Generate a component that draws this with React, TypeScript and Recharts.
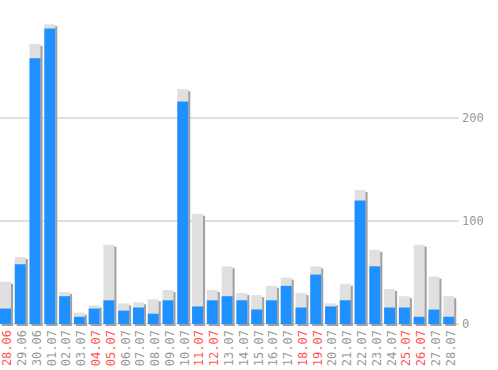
import React from "react";
import { BarChart, Bar, XAxis, YAxis, CartesianGrid } from "recharts";

const dayLabels = [
  "28.06", "29.06", "30.06", "01.07", "02.07", "03.07", "04.07", "05.07",
  "06.07", "07.07", "08.07", "09.07", "10.07", "11.07", "12.07", "13.07",
  "14.07", "15.07", "16.07", "17.07", "18.07", "19.07", "20.07", "21.07",
  "22.07", "23.07", "24.07", "25.07", "26.07", "27.07", "28.07",
];
const totalValues = [
  41, 65, 272, 291, 31, 11, 18, 77, 20, 21, 24, 33, 228, 107, 33, 56,
  30, 28, 37, 45, 30, 56, 20, 39, 130, 72, 34, 27, 77, 46, 27,
];
const mainValues = [
  15, 58, 258, 287, 27, 7, 15, 23, 13, 16, 10, 23, 216, 17, 23, 27,
  23, 14, 23, 37, 16, 48, 17, 23, 120, 56, 16, 16, 7, 14, 7,
];
const redDays = ["28.06", "04.07", "05.07", "11.07", "12.07", "18.07", "19.07", "25.07", "26.07"];
const yTicks = [0, 100, 200];

const data = dayLabels.map((d, i) => ({ day: d, total: totalValues[i], value: mainValues[i] }));

const FONT = "'DejaVu Sans Mono', monospace";

const ShadowBar = (props: any) => {
  const { x, y, width, height } = props;
  if (height == null || height <= 0) return null;
  return (
    <g>
      <rect x={x + 2} y={y + 2} width={width} height={height} fill="#a0a0a0" />
      <rect x={x} y={y} width={width} height={height} fill="#e0e0e0" />
    </g>
  );
};

const DayTick = (props: any) => {
  const { x, y, payload } = props;
  const red = redDays.includes(payload.value);
  const ty = y + 6;
  return (
    <text
      x={x}
      y={ty}
      dy={6}
      transform={`rotate(-90, ${x}, ${ty})`}
      textAnchor="end"
      fontFamily={FONT}
      fontSize={12}
      fill={red ? "#ff5555" : "#999999"}
    >
      {payload.value}
    </text>
  );
};

export default function App() {
  return (
    <div style={{ position: "absolute", left: 0, top: 0, background: "#fff" }}>
      <BarChart
        width={498}
        height={370}
        data={data}
        margin={{ top: 15, right: 0, bottom: 0, left: -2 }}
      >
        <CartesianGrid vertical={false} stroke="#c0c0c0" horizontalValues={yTicks} />
        <XAxis
          xAxisId="a"
          dataKey="day"
          interval={0}
          height={46}
          tickLine={false}
          axisLine={false}
          tickSize={0}
          tickMargin={0}
          padding={{ left: 0, right: 3 }}
          tick={<DayTick />}
        />
        <XAxis xAxisId="b" dataKey="day" hide padding={{ left: 0, right: 3 }} />
        <YAxis
          orientation="right"
          domain={[0, 300]}
          ticks={yTicks}
          width={39}
          tickLine={false}
          axisLine={false}
          tickSize={0}
          tickMargin={3}
          tick={{ fontFamily: FONT, fontSize: 12, fill: "#999999" }}
        />
        <Bar xAxisId="a" dataKey="total" barSize={11} shape={<ShadowBar />} isAnimationActive={false} />
        <Bar xAxisId="b" dataKey="value" barSize={11} fill="#1e90ff" isAnimationActive={false} />
      </BarChart>
    </div>
  );
}
